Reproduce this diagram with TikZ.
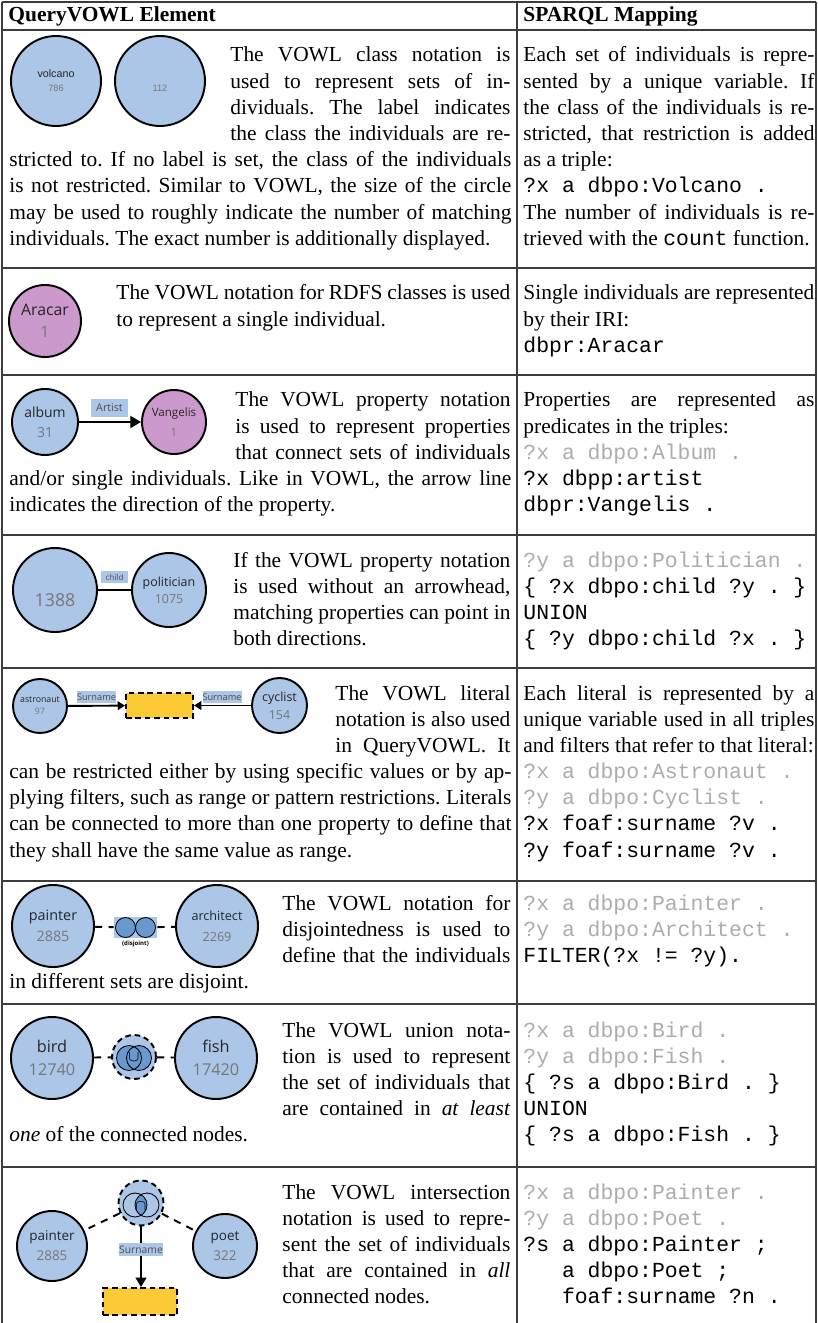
\documentclass[tikz,border=0pt]{standalone}
\usepackage{fontspec}
\setmainfont{Liberation Serif}
\setmonofont{Liberation Mono}
\newfontfamily\vowlsans{Open Sans}
\newfontfamily\arialsans{Liberation Sans}
\usetikzlibrary{arrows.meta}

\definecolor{classblue}{RGB}{172,198,232}
\definecolor{indivpurple}{RGB}{204,153,204}
\definecolor{literalyellow}{RGB}{252,202,52}
\definecolor{setblue}{RGB}{104,152,206}
\definecolor{numgrey}{RGB}{118,118,118}
\definecolor{codegrey}{RGB}{172,172,172}
\definecolor{rulegrey}{RGB}{60,60,60}

\newcommand{\pxl}{0.4666pt}
\newcommand{\greycode}[1]{\textcolor{codegrey}{\texttt{#1}}}

\tikzset{
  class/.style={circle, draw=black, line width=0.9pt, fill=classblue, inner sep=0pt, align=center, text=black!85},
  indiv/.style={class, fill=indivpurple},
  literal/.style={rectangle, draw=black, line width=0.9pt, dash pattern=on 2.6pt off 1.8pt, fill=literalyellow, inner sep=0pt},
  proplabel/.style={rectangle, fill=classblue, inner sep=0pt, text=black!70},
  setop/.style={circle, draw=black, line width=0.9pt, dash pattern=on 2.6pt off 1.8pt, fill=classblue, inner sep=0pt},
  setpart/.style={draw=black, line width=0.4pt},
  desc/.style={anchor=base west, inner sep=0pt, align=justify, font=\fontsize{10}{12.22}\selectfont\frenchspacing},
  rule/.style={rulegrey, line width=0.7pt},
  link/.style={line width=0.9pt},
  dlink/.style={line width=0.9pt, dash pattern=on 3.4pt off 3pt},
}

\begin{document}
\begin{tikzpicture}[x=\pxl, y=-\pxl]
\useasboundingbox (0,0) rectangle (817,1323);

\foreach \y in {2,30,268,375,535,668,881,1004,1167}
  \draw[rule] (2,\y) -- (816,\y);
\foreach \x in {2,517,816}
  \draw[rule] (\x,2) -- (\x,1323);

\node[anchor=base west, inner sep=0pt, font=\bfseries\fontsize{10}{12}\selectfont] (hdrelement) at (8,22) {QueryVOWL Element};
\node[anchor=base west, inner sep=0pt, font=\bfseries\fontsize{10}{12}\selectfont] (hdrmapping) at (523,22) {SPARQL Mapping};

% class
\node[class, minimum size=90*\pxl, font=\arialsans\fontsize{5}{6.5}\selectfont] (volcano) at (56,81) {volcano\\{\fontsize{4.3}{5}\selectfont\color{numgrey}786}};
\node[class, minimum size=90*\pxl, font=\arialsans\fontsize{5}{6.5}\selectfont] (anyclass) at (160,81) {\phantom{volcano}\\{\fontsize{4.3}{5}\selectfont\color{numgrey}112}};
\node[desc, text width=130.65pt] (d1a) at (230,62) {The VOWL class notation is\linebreak used to represent sets of in-\linebreak dividuals. The label indicates\linebreak the class the individuals are re-\linebreak};
\node[desc, text width=234.23pt] (d1b) at (9,166.8) {stricted to. If no label is set, the class of the individuals\linebreak is not restricted. Similar to VOWL, the size of the circle\linebreak may be used to roughly indicate the number of matching\linebreak individuals. The exact number is additionally displayed.};
\node[desc, text width=135.78pt] (m1) at (523,62) {Each set of individuals is repre-\linebreak sented by a unique variable. If\linebreak the class of the individuals is re-\linebreak stricted, that restriction is added\linebreak as a triple:\\\texttt{?x a dbpo:Volcano .}\\The number of individuals is re-\linebreak trieved with the \texttt{count} function.};

% individual
\node[indiv, minimum size=72*\pxl, font=\vowlsans\fontsize{7.4}{10.5}\selectfont] (aracar) at (45,321) {Aracar\\\textcolor{numgrey}{1}};
\node[desc, text width=183.8pt] (d2) at (116,300) {The VOWL notation for RDFS classes is used\linebreak to represent a single individual.};
\node[desc, text width=135.78pt] (m2) at (523,300) {Single individuals are represented\linebreak by their IRI:\\\texttt{dbpr:Aracar}};

% property
\node[class, minimum size=66*\pxl, font=\vowlsans\fontsize{6.5}{9.3}\selectfont] (album) at (45,422) {album\\\textcolor{numgrey}{31}};
\node[indiv, minimum size=64*\pxl, font=\vowlsans\fontsize{5.4}{9.3}\selectfont] (vangelis) at (174,422) {Vangelis\\\textcolor{numgrey}{1}};
\draw[link, -{Triangle[length=5pt, width=5.6pt]}] (album) -- (vangelis);
\node[proplabel, minimum width=37*\pxl, minimum height=18*\pxl, font=\vowlsans\fontsize{5}{6}\selectfont] (artist) at (109.5,408) {Artist};
\node[desc, text width=128.32pt] (d3a) at (235,407) {The VOWL property notation\linebreak is used to represent properties\linebreak that connect sets of individuals\linebreak};
\node[desc, text width=234.23pt] (d3b) at (9,485.6) {and/or single individuals. Like in VOWL, the arrow line\linebreak indicates the direction of the property.};
\node[desc, text width=135.78pt] (m3) at (523,407) {Properties are represented as\linebreak predicates in the triples:\\\greycode{?x a dbpo:Album .}\\\texttt{?x dbpp:artist}\\\texttt{dbpr:Vangelis .}};

% undirected property
\node[class, minimum size=84*\pxl, font=\vowlsans\fontsize{8.3}{9.3}\selectfont, text=numgrey] (anonclass) at (55,590) {\phantom{1388}\\1388};
\node[class, minimum size=74*\pxl, font=\vowlsans\fontsize{5.8}{7.9}\selectfont] (politician) at (169,590) {politician\\\textcolor{numgrey}{1075}};
\draw[link] (anonclass) -- (politician);
\node[proplabel, minimum width=27*\pxl, minimum height=12*\pxl, font=\vowlsans\fontsize{3.8}{4.5}\selectfont] (child) at (114.5,577) {child};
\node[desc, text width=129.25pt] (d4) at (233,567) {If the VOWL property notation\linebreak is used without an arrowhead,\linebreak matching properties can point in\linebreak both directions.};
\node[desc, text width=135.78pt] (m4) at (523,567) {\greycode{?y a dbpo:Politician .}\\\texttt{\{ ?x dbpo:child ?y . \}}\\\texttt{UNION}\\\texttt{\{ ?y dbpo:child ?x . \}}};

% literal
\node[class, minimum size=54*\pxl, font=\vowlsans\fontsize{4.1}{5.6}\selectfont] (astronaut) at (40,706) {astronaut\\\textcolor{numgrey}{97}};
\node[literal, minimum width=67*\pxl, minimum height=25*\pxl] (surnamelit) at (159.5,705.5) {};
\node[class, minimum size=55*\pxl, font=\vowlsans\fontsize{5.8}{8.4}\selectfont] (cyclist) at (279.5,705.5) {cyclist\\\textcolor{numgrey}{154}};
\draw[link, -{Triangle[length=3.4pt, width=4pt]}] (astronaut) -- (surnamelit);
\draw[link, -{Triangle[length=3.4pt, width=4pt]}] (cyclist) -- (surnamelit);
\node[proplabel, minimum width=37*\pxl, minimum height=12*\pxl, font=\vowlsans\fontsize{4.3}{5}\selectfont] (surnameA) at (96.5,697) {Surname};
\node[proplabel, minimum width=37*\pxl, minimum height=12*\pxl, font=\vowlsans\fontsize{4.3}{5}\selectfont] (surnameB) at (222,697) {Surname};
\node[desc, text width=81.66pt] (d5a) at (335,700) {The VOWL literal\linebreak notation is also used\linebreak in QueryVOWL. It\linebreak};
\node[desc, text width=234.23pt] (d5b) at (9,778.6) {can be restricted either by using specific values or by ap-\linebreak plying filters, such as range or pattern restrictions. Literals\linebreak can be connected to more than one property to define that\linebreak they shall have the same value as range.};
\node[desc, text width=135.78pt] (m5) at (523,700) {Each literal is represented by a\linebreak unique variable used in all triples\linebreak and filters that refer to that literal:\\\greycode{?x a dbpo:Astronaut .}\\\greycode{?y a dbpo:Cyclist .}\\\texttt{?x foaf:surname ?v .}\\\texttt{?y foaf:surname ?v .}};

% disjointness
\node[class, minimum size=82*\pxl, font=\vowlsans\fontsize{6.7}{9.8}\selectfont] (painter) at (53,926) {painter\\\textcolor{numgrey}{2885}};
\node[rectangle, fill=classblue, minimum width=43*\pxl, minimum height=21*\pxl, inner sep=0pt] (disjoint) at (135.5,927.5) {};
\node[circle, setpart, fill=setblue, minimum size=20*\pxl, inner sep=0pt] (djleft) at (125.5,927.5) {};
\node[circle, setpart, fill=setblue, minimum size=20*\pxl, inner sep=0pt] (djright) at (145.5,927.5) {};
\node[inner sep=0pt, font=\vowlsans\bfseries\fontsize{2.8}{3}\selectfont] (djtext) at (135.5,944) {(disjoint)};
\node[class, minimum size=82*\pxl, font=\vowlsans\fontsize{5.9}{9.8}\selectfont] (architect) at (217,926) {architect\\\textcolor{numgrey}{2269}};
\draw[dlink] (painter) -- (disjoint);
\draw[dlink] (disjoint) -- (architect);
\node[desc, text width=106.38pt] (d6a) at (282,910) {The VOWL notation for\linebreak disjointedness is used to\linebreak define that the individuals\linebreak};
\node[desc, text width=234.23pt] (d6b) at (9,988.6) {in different sets are disjoint.};
\node[desc, text width=135.78pt] (m6) at (523,910) {\greycode{?x a dbpo:Painter .}\\\greycode{?y a dbpo:Architect .}\\\texttt{FILTER(?x != ?y).}};

% union
\node[class, minimum size=82*\pxl, font=\vowlsans\fontsize{7.6}{10.7}\selectfont] (bird) at (52,1058) {bird\\\textcolor{numgrey}{12740}};
\node[setop, minimum size=44*\pxl] (union) at (134,1057) {};
\fill[setblue] (129,1058) circle[radius=12.5] (139,1058) circle[radius=12.5];
\draw[setpart] (129,1058) circle[radius=12.5] (139,1058) circle[radius=12.5];
\node[inner sep=0pt, font=\fontsize{7.5}{8}\selectfont] (unionsign) at (134,1057) {$\cup$};
\node[class, minimum size=82*\pxl, font=\vowlsans\fontsize{7.6}{10.7}\selectfont] (fish) at (216,1058) {fish\\\textcolor{numgrey}{17420}};
\draw[dlink] (bird) -- (union);
\draw[dlink] (union) -- (fish);
\node[desc, text width=106.38pt] (d7a) at (282,1037) {The VOWL union nota-\linebreak tion is used to represent\linebreak the set of individuals that\linebreak are contained in \emph{at least}\linebreak};
\node[desc, text width=234.23pt] (d7b) at (9,1141.8) {\emph{one} of the connected nodes.};
\node[desc, text width=135.78pt] (m7) at (523,1037) {\greycode{?x a dbpo:Bird .}\\\greycode{?y a dbpo:Fish .}\\\texttt{\{ ?s a dbpo:Bird . \}}\\\texttt{UNION}\\\texttt{\{ ?s a dbpo:Fish . \}}};

% intersection
\node[setop, minimum size=45*\pxl] (intersect) at (141,1203) {};
\begin{scope}
  \clip (135,1205) circle[radius=12];
  \fill[setblue] (147,1205) circle[radius=12];
\end{scope}
\draw[setpart] (135,1205) circle[radius=12] (147,1205) circle[radius=12];
\node[inner sep=0pt, font=\fontsize{7}{8}\selectfont] (intersectsign) at (141,1206) {$\cap$};
\node[class, minimum size=70*\pxl, font=\vowlsans\fontsize{6.3}{9.3}\selectfont] (painterB) at (52,1246) {painter\\\textcolor{numgrey}{2885}};
\node[class, minimum size=64*\pxl, font=\vowlsans\fontsize{6.3}{9.3}\selectfont] (poet) at (225,1246) {poet\\\textcolor{numgrey}{322}};
\node[literal, minimum width=74*\pxl, minimum height=27*\pxl] (surnamelitB) at (140,1301.5) {};
\draw[dlink] (intersect) -- (painterB);
\draw[dlink] (intersect) -- (poet);
\draw[link, -{Triangle[length=4.4pt, width=5pt]}] (intersect) -- (intersect |- surnamelitB.north);
\node[proplabel, minimum width=42*\pxl, minimum height=13*\pxl, font=\vowlsans\fontsize{4.8}{5.5}\selectfont] (surnameC) at (141,1249.5) {Surname};
\node[desc, text width=106.38pt] (d8) at (282,1199) {The VOWL intersection\linebreak notation is used to repre-\linebreak sent the set of individuals\linebreak that are contained in \emph{all}\linebreak connected nodes.};
\node[desc, text width=135.78pt] (m8) at (523,1199) {\greycode{?x a dbpo:Painter .}\\\greycode{?y a dbpo:Poet .}\\\texttt{?s a dbpo:Painter ;}\\\texttt{\phantom{?s }a dbpo:Poet ;}\\\texttt{\phantom{?s }foaf:surname ?n .}};
\end{tikzpicture}
\end{document}
